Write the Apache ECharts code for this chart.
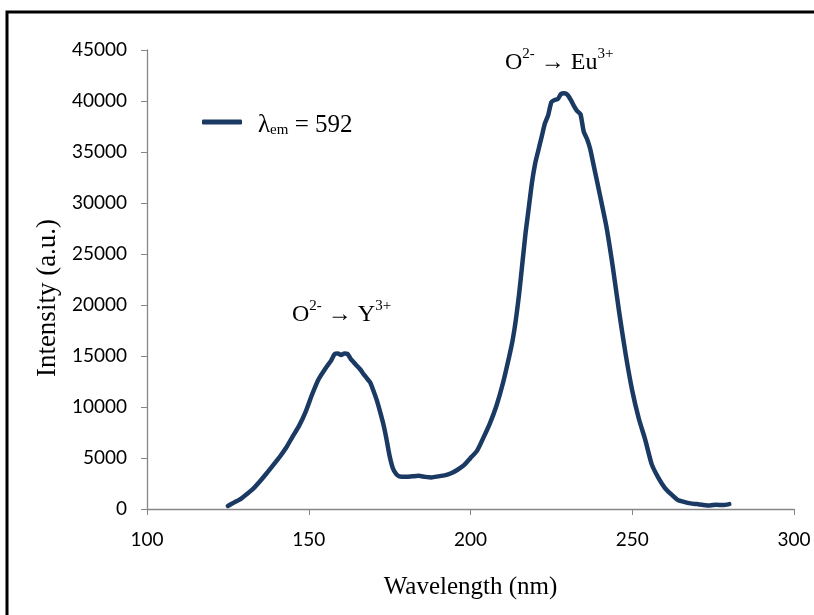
<!DOCTYPE html>
<html>
<head>
<meta charset="utf-8">
<script src="https://cdn.jsdelivr.net/npm/echarts@6/dist/echarts.min.js"></script>
<style>html,body{margin:0;padding:0;background:#fff}#c{width:814px;height:615px}</style>
</head>
<body>
<div id="c"></div>
<script>
var wavelengths = [125,127,129,131,133,135,137,139,141,143,145,147,149,151,153,155,156,157,158,159,160,161,162,163,164,165,166,167,168,169,170,171,172,173,174,175,176,177,178,180,182,184,186,188,190,192,194,196,198,200,202,204,206,208,210,212,213,214,215,216,217,218,219,220,221,222,223,224,225,226,227,228,229,230,231,232,233,234,235,236,237,238,240,242,244,246,248,250,252,254,256,258,260,262,264,266,268,270,272,274,276,278,280];
var intensity = [300,650,1000,1500,2050,2750,3500,4300,5100,6000,7100,8150,9500,11200,12700,13700,14150,14600,15200,15250,15100,15250,15200,14700,14350,14000,13650,13200,12800,12400,11600,10700,9600,8400,6900,5200,4000,3450,3200,3150,3200,3250,3150,3100,3200,3300,3500,3850,4300,5000,5700,7000,8400,10100,12300,15000,16500,18500,21000,24000,27000,29500,32000,33900,35200,36500,37800,38600,39900,40100,40200,40700,40750,40600,40100,39500,39000,38700,37000,36300,35300,33800,30800,27700,23700,19200,15100,11600,8900,6800,4400,3100,2100,1450,900,700,550,480,400,350,420,380,480];
var xTicks = [100,150,200,250,300];
var yTicks = [0,5000,10000,15000,20000,25000,30000,35000,40000,45000];
var seriesName = 'λem = 592';
var xTitle = 'Wavelength (nm)';
var yTitle = 'Intensity (a.u.)';

var data = wavelengths.map(function(w,i){return [w,intensity[i]];});
var chart = echarts.init(document.getElementById('c'));
var axisGray = '#868686';
var serif = '"Liberation Serif","Times New Roman",serif';
var sans = 'Lato, "Open Sans", sans-serif';
chart.setOption({
  animation:false,
  backgroundColor:'#fff',
  grid:{left:147,right:20,top:50,bottom:106,containLabel:false},
  legend:{
    left:197, top:108, icon:'roundRect', itemWidth:40, itemHeight:5, itemGap:10,
    data:[seriesName],
    formatter:function(){return '{g| }{l|λ}{s|em}{t| = 592}';},
    textStyle:{
      rich:{
        g:{fontSize:10,width:11,lineHeight:32,verticalAlign:'bottom'},
        l:{fontFamily:serif,fontSize:25,color:'#000',lineHeight:32,verticalAlign:'bottom'},
        s:{fontFamily:serif,fontSize:15,color:'#000',lineHeight:29,verticalAlign:'bottom'},
        t:{fontFamily:serif,fontSize:25,color:'#000',lineHeight:32,verticalAlign:'bottom'}
      }
    }
  },
  xAxis:{
    type:'value', min:100, max:300, interval:50,
    name:xTitle, nameLocation:'middle', nameGap:66,
    nameTextStyle:{fontFamily:serif,fontSize:25,color:'#000'},
    axisLine:{lineStyle:{color:axisGray,width:1.3}},
    axisTick:{show:true,length:6,inside:false,lineStyle:{color:axisGray}},
    axisLabel:{margin:21,fontFamily:sans,fontSize:19,color:'#000',
      formatter:function(v){return xTicks.indexOf(v)>=0?String(v):'';}},
    splitLine:{show:false}
  },
  yAxis:{
    type:'value', min:0, max:45000, interval:5000,
    axisLine:{show:true,lineStyle:{color:axisGray,width:1.3}},
    axisTick:{show:true,length:6,inside:false,lineStyle:{color:axisGray}},
    axisLabel:{margin:20,fontFamily:sans,fontSize:19,color:'#000',
      formatter:function(v){return yTicks.indexOf(v)>=0?String(v):'';}},
    splitLine:{show:false}
  },
  series:[{
    name:seriesName, type:'line', data:data, showSymbol:false, smooth:0.2,
    lineStyle:{color:'#1b3a63',width:4.5,cap:'round',join:'round'},
    itemStyle:{color:'#1b3a63'}
  }],
  graphic:[
    {type:'rect',shape:{x:7,y:12,width:1000,height:800},style:{fill:'none',stroke:'#000',lineWidth:3},z:100},
    {type:'text',x:48,y:298,rotation:Math.PI/2,style:{
      text:yTitle,fontFamily:serif,fontSize:27,fill:'#000',align:'center',verticalAlign:'middle'}},
    {type:'text',left:292,top:299,style:{
      text:'{o|O}{sup|2-}{a| → Y}{sup|3+}',
      rich:{
        o:{fontFamily:serif,fontSize:24,color:'#000',lineHeight:28,verticalAlign:'bottom'},
        a:{fontFamily:serif,fontSize:24,color:'#000',lineHeight:28,verticalAlign:'bottom'},
        sup:{fontFamily:serif,fontSize:15,color:'#000',lineHeight:28,verticalAlign:'top'}
      }}},
    {type:'text',left:505,top:47,style:{
      text:'{o|O}{sup|2-}{a| → Eu}{sup|3+}',
      rich:{
        o:{fontFamily:serif,fontSize:24,color:'#000',lineHeight:28,verticalAlign:'bottom'},
        a:{fontFamily:serif,fontSize:24,color:'#000',lineHeight:28,verticalAlign:'bottom'},
        sup:{fontFamily:serif,fontSize:15,color:'#000',lineHeight:28,verticalAlign:'top'}
      }}}
  ]
});
</script>
</body>
</html>
